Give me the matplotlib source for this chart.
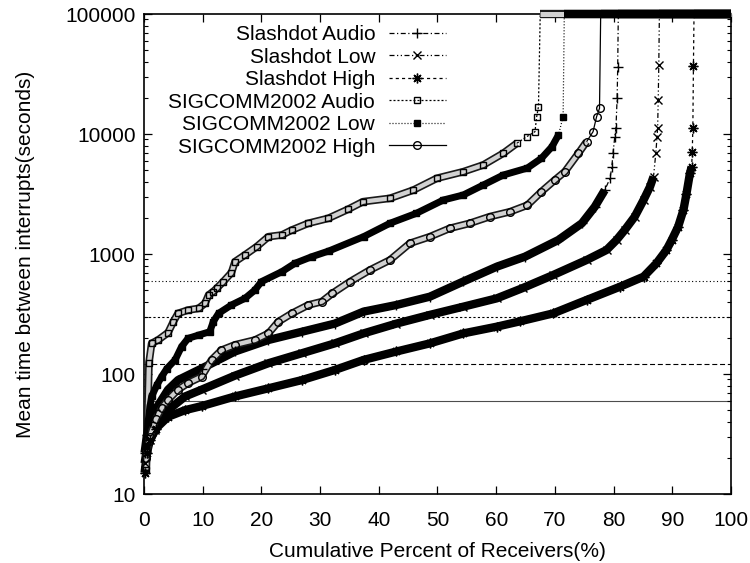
import matplotlib
matplotlib.use("Agg")
import matplotlib.pyplot as plt
from matplotlib.lines import Line2D
from matplotlib import patheffects as pe

plt.rcParams['font.family'] = ['Liberation Sans', 'DejaVu Sans']

# Receivers with no interrupt at all are pinned to the top of the scale.
NO_INTERRUPT = 100000

# ---- Slashdot sessions -------------------------------------------------
slashdot_audio_pct = [0.1, 0.5, 1.0, 1.9, 4.1, 5.8, 9.8, 15.5, 21.2, 26.9, 32.5, 37.4,
                      43.0, 48.7, 54.4, 60.1, 64.9, 70.6, 74.6, 76.8, 78.5,
                      79.4, 79.7, 79.9, 80.2, 80.4, 80.6, 80.7, 80.8, 100]
slashdot_audio_mtbi = [22, 31, 40, 50, 74, 89, 111, 154, 192, 225, 263, 331,
                       376, 441, 590, 784, 950, 1309, 1803, 2477, 3412,
                       4276, 5340, 6905, 9504, 11200, 19820, 36390, 100000, 100000]

slashdot_low_pct = [0.1, 0.5, 1.0, 1.9, 4.1, 7.0, 9.8, 15.5, 21.2, 26.9, 32.5, 37.4,
                    43.0, 48.7, 54.4, 60.1, 64.5, 69.7, 75.4, 78.8, 80.5, 81.9,
                    83.6, 85.1, 86.2, 86.8, 87.2, 87.4, 87.5, 87.6, 87.7, 87.8, 100]
slashdot_low_mtbi = [18, 24, 28, 34, 50, 65, 74, 97, 123, 149, 180, 218,
                     263, 311, 364, 427, 520, 668, 891, 1080, 1309, 1585,
                     2048, 2818, 3635, 4407, 7000, 9500, 11200, 19200, 37600, 100000, 100000]

slashdot_high_pct = [0.1, 0.5, 1.0, 2.0, 4.1, 7.0, 9.8, 15.5, 21.2, 26.9, 32.5, 37.4,
                     43.0, 48.7, 54.4, 60.1, 64.1, 69.7, 75.4, 81.1, 85.1, 87.3,
                     89.0, 89.9, 91.0, 91.9, 92.4, 93.0, 93.3, 93.4, 93.5, 93.6, 93.7, 100]
slashdot_high_mtbi = [15, 22, 28, 35, 44, 50, 54, 65, 76, 89, 108, 131,
                      154, 180, 218, 248, 275, 320, 414, 534, 647, 836,
                      1080, 1309, 1690, 2330, 3150, 4700, 5340, 7100, 11200, 36900, 100000, 100000]

# ---- SIGCOMM 2002 sessions ---------------------------------------------
sigcomm_audio_pct = [0.4, 0.85, 1.3, 2.4, 4.1, 5.0, 5.8, 7.5, 9.3, 10.4, 11.0, 11.8,
                     12.4, 13.5, 14.9, 15.5, 17.2, 19.2, 21.2, 23.5, 25.2, 28.0,
                     31.4, 34.7, 37.3, 41.9, 45.9, 49.9, 54.4, 57.8, 61.2, 63.5,
                     65.2, 66.6, 66.9, 67.2, 67.5, 100]
sigcomm_audio_mtbi = [16, 124, 180, 192, 221, 273, 320, 341, 352, 388, 455, 486,
                      518, 588, 699, 863, 982, 1151, 1394, 1441, 1585, 1803,
                      1983, 2350, 2729, 2911, 3412, 4276, 4853, 5521, 6905, 8356,
                      9504, 10450, 13930, 16900, 100000, 100000]

sigcomm_low_pct = [0.3, 0.7, 1.0, 1.3, 2.2, 3.0, 3.9, 5.3, 6.4, 7.5, 9.3, 11.2,
                   11.8, 12.7, 14.9, 17.2, 18.9, 20.0, 23.5, 25.7, 28.6, 31.5,
                   37.4, 41.9, 46.4, 51.0, 54.4, 57.8, 61.2, 65.3, 67.7, 69.5,
                   70.6, 71.4, 71.6, 100]
sigcomm_low_mtbi = [25, 40, 53, 65, 81, 95, 111, 131, 169, 198, 211, 225,
                    273, 320, 376, 427, 501, 588, 713, 836, 950, 1060,
                    1394, 1803, 2183, 2818, 3105, 3758, 4550, 5200, 6270, 7840,
                    9810, 13930, 100000, 100000]

sigcomm_high_pct = [0.3, 1.0, 2.0, 3.0, 4.1, 5.8, 7.5, 9.8, 11.5, 13.2, 15.5, 18.9,
                    21.2, 22.9, 25.2, 28.0, 30.3, 32.1, 35.1, 38.5, 41.9, 45.3,
                    48.7, 52.1, 55.5, 58.9, 62.4, 65.3, 67.7, 70.0, 71.7, 74.0,
                    75.4, 76.5, 77.1, 77.6, 77.8, 100]
sigcomm_high_mtbi = [20, 30, 42, 52, 61, 74, 84, 95, 131, 158, 175, 192,
                     218, 273, 320, 376, 401, 470, 588, 736, 891, 1228,
                     1394, 1637, 1803, 2048, 2254, 2550, 3307, 4140, 4853, 6905,
                     8630, 10450, 13930, 16370, 100000, 100000]

# Reference interrupt intervals (seconds): 10, 5, 2 and 1 minute(s)
ref_levels = [600, 300, 120, 60]

series = [
    ("Slashdot Audio", slashdot_audio_pct, slashdot_audio_mtbi),
    ("Slashdot Low", slashdot_low_pct, slashdot_low_mtbi),
    ("Slashdot High", slashdot_high_pct, slashdot_high_mtbi),
    ("SIGCOMM2002 Audio", sigcomm_audio_pct, sigcomm_audio_mtbi),
    ("SIGCOMM2002 Low", sigcomm_low_pct, sigcomm_low_mtbi),
    ("SIGCOMM2002 High", sigcomm_high_pct, sigcomm_high_mtbi),
]

# drawing style per series: dash pattern, marker, band style and the value
# up to which the overlapping markers merge into one band
styles = {
    "Slashdot Audio": dict(dash=(4, 2, 1, 2), marker='+', ms=7, mfc='black',
                           band='solid', band_lw=6.0, band_max=3500),
    "Slashdot Low": dict(dash=(4, 2, 1, 2, 1, 2), marker='x', ms=6, mfc='black',
                         band='solid', band_lw=6.0, band_max=4500),
    "Slashdot High": dict(dash=(2.5, 2.5), marker=(8, 2, 0), ms=7, mfc='black',
                          band='solid', band_lw=6.0, band_max=5400),
    "SIGCOMM2002 Audio": dict(dash=(1.6, 1.6), marker='s', ms=5, mfc='none',
                              band='tube', band_lw=5.5, band_max=9000),
    "SIGCOMM2002 Low": dict(dash=(0.8, 1.6), marker='s', ms=5, mfc='black',
                            band='solid', band_lw=5.0, band_max=10000),
    "SIGCOMM2002 High": dict(dash=None, marker='o', ms=5.5, mfc='none',
                             band='tube', band_lw=5.5, band_max=9000),
}


def draw_band(xs, ys, kind, lw, z):
    if kind == 'solid':
        ax.plot(xs, ys, color='black', lw=lw, solid_capstyle='butt',
                zorder=z, clip_on=False)
    else:
        ax.plot(xs, ys, color='0.82', lw=lw - 2.4, solid_capstyle='butt',
                zorder=z, clip_on=False,
                path_effects=[pe.Stroke(linewidth=lw, foreground='0.1'), pe.Normal()])


fig = plt.figure(figsize=(7.5, 5.63), dpi=100)
ax = fig.add_axes([144 / 750, 1 - 494 / 563, (731 - 144) / 750, (494 - 14) / 563])
ax.set_yscale('log')
ax.set_xlim(0, 100)
ax.set_ylim(10, 100000)

# reference intervals
ref_styles = [(0, (1, 2.2)), (0, (2, 2)), (0, (4.5, 2.5)), '-']
for lvl, ls in zip(ref_levels, ref_styles):
    ax.axhline(lvl, color='black' if ls != '-' else '0.3', lw=0.8, linestyle=ls, zorder=1)

handles = []
for name, pct, mtbi in series:
    st = styles[name]
    dash_kw = {'dashes': st['dash']} if st['dash'] else {'linestyle': '-'}
    # connecting line, including the jump to the "no interrupt" level
    ax.plot(pct, mtbi, color='black', lw=0.9, zorder=3, clip_on=False, **dash_kw)

    finite = [(p, v) for p, v in zip(pct, mtbi) if v < NO_INTERRUPT]
    dense = [(p, v) for p, v in finite if v <= st['band_max']]
    top = [(p, v) for p, v in zip(pct, mtbi) if v >= NO_INTERRUPT]
    draw_band([p for p, _ in dense], [v for _, v in dense], st['band'], st['band_lw'], 4)
    # markers of receivers without interrupts pile up along the top border
    top_kind = 'tube' if st['mfc'] == 'none' and name.endswith('Audio') else 'solid'
    draw_band([p for p, _ in top], [v for _, v in top], top_kind, 6.0,
              4 if top_kind == 'tube' else 4.5)
    ax.plot([p for p, _ in finite], [v for _, v in finite], linestyle='none',
            marker=st['marker'], ms=st['ms'], mfc=st['mfc'], mec='black', mew=1.0,
            zorder=5, clip_on=False)
    handles.append(Line2D([], [], color='black', lw=0.9, marker=st['marker'], ms=st['ms'],
                          mfc=st['mfc'], mec='black', mew=1.0, **dash_kw))

ax.legend(handles, [s[0] for s in series], loc='upper right',
          bbox_to_anchor=(446 / 750, 1 - 25 / 563), bbox_transform=fig.transFigure,
          frameon=False, markerfirst=False, fontsize=15, handlelength=2.75,
          handletextpad=0.65, labelspacing=0.17, borderpad=0, borderaxespad=0)

ax.set_xticks(range(0, 101, 10))
ax.set_yticks([10, 100, 1000, 10000, 100000])
ax.set_yticklabels(['10', '100', '1000', '10000', '100000'])
ax.tick_params(which='both', direction='in', top=True, right=True, labelsize=15)
ax.tick_params(axis='x', pad=12)
ax.tick_params(axis='y', pad=6)
ax.tick_params(which='major', length=6, width=0.9)
ax.tick_params(which='minor', length=3, width=0.8)
for s in ax.spines.values():
    s.set_linewidth(1.2)

ax.set_xlabel('Cumulative Percent of Receivers(%)', fontsize=15, labelpad=9)
ax.set_ylabel('Mean time between interrupts(seconds)', fontsize=15, labelpad=22)

fig.savefig('out.png', dpi=100)
